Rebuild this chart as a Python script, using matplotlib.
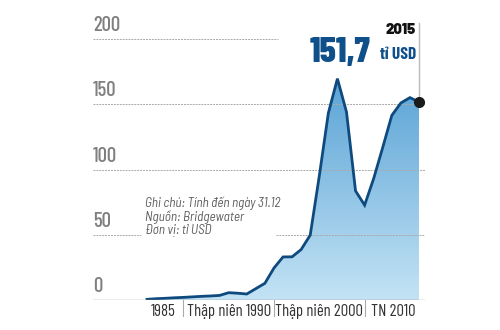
import numpy as np
import matplotlib
matplotlib.use("Agg")
import matplotlib.pyplot as plt
from matplotlib.colors import LinearSegmentedColormap

years = [1985, 1986, 1987, 1988, 1989, 1990, 1991, 1992, 1993, 1994, 1995,
         1996, 1997, 1998, 1999, 2000, 2001, 2002, 2003, 2004, 2005, 2006,
         2007, 2008, 2009, 2010, 2011, 2012, 2013, 2014, 2015]
values = [0.5, 1.0, 1.3, 1.7, 2.0, 2.4, 2.8, 3.1, 3.5, 5.6, 5.2,
          4.6, 8.7, 12.8, 24.5, 33.0, 33.1, 38.7, 49.7, 95.0, 143.3, 169.6,
          144.1, 83.6, 72.7, 93.1, 117.0, 141.5, 151.0, 155.1, 151.7]
yticks = [0, 50, 100, 150, 200]
periods = ["1985", "Thập niên 1990", "Thập niên 2000", "TN 2010"]
period_mid = [1986.8, 1994.0, 2004.0, 2012.2]
period_sep = [1989, 1999, 2009]
notes = ["Ghi chú: Tính đến ngày 31.12", "Nguồn: Bridgewater", "Đơn vị: tỉ USD"]

cf = ["Barlow Condensed", "DejaVu Sans"]
sf = ["Barlow Semi Condensed", "DejaVu Sans"]
wf = ["Barlow", "DejaVu Sans"]
line_c = "#0e4a7e"
blue = "#0f4f8a"

fig = plt.figure(figsize=(5, 3.3), dpi=100)
ax = fig.add_axes([93 / 500, 30 / 330, 332 / 500, 300 / 330])
x0, x1 = 1979.04, 2015.66
ax.set_xlim(x0, x1)
ax.set_ylim(0, 229.9)
ax.axis("off")

# gradient fill under the curve
cmap = LinearSegmentedColormap.from_list("g", ["#c3e3f4", "#5aa3d6"])
grad = np.linspace(0, 1, 256).reshape(-1, 1)
poly = ax.fill_between(years, values, 0, color="none")
im = ax.imshow(grad, cmap=cmap, origin="lower", aspect="auto",
               extent=[years[0], years[-1], 0, 170], zorder=1)
im.set_clip_path(poly.get_paths()[0], transform=ax.transData)
ax.plot(years, values, color=line_c, lw=2.0, zorder=3, solid_joinstyle="miter")

# grid lines
gc = "#aaaaaa"
ax.plot([x0, x1], [0, 0], color="#999999", lw=1, zorder=4)
ax.plot([x0, x1], [100, 100], color=gc, lw=0.7, ls=(0, (2, 1)), zorder=2)
ax.plot([x0, x1], [150, 150], color=gc, lw=0.7, ls=(0, (2, 1)), zorder=2)
ax.plot([x0, 1984.3], [50, 50], color=gc, lw=0.7, ls=(0, (2, 1)), zorder=2)
ax.plot([1999.2, x1], [50, 50], color=gc, lw=0.7, ls=(0, (2, 1)), zorder=2)
ax.plot([x0, 1999.5], [200, 200], color=gc, lw=0.7, ls=(0, (2, 1)), zorder=2)

for t in yticks:
    ax.text(x0, t + 3, str(t), fontsize=15, color="#7f7f7f", family=cf,
            fontweight="medium", ha="left", va="bottom")

# bottom period labels
for s in period_sep:
    ax.plot([s, s], [0, -12], color="#aaaaaa", lw=0.8, clip_on=False)
for lab, m in zip(periods, period_mid):
    ax.text(m, -12, lab, fontsize=12, color="#333333", family=cf,
            ha="center", va="baseline")

# notes
for i, n in enumerate(notes):
    ax.text(1984.77, 74.1 - i * 10.6, n, fontsize=9.5, color="#5e5e5e",
            style="italic", family=sf, ha="left", va="center")

# end marker and label
ax.plot([years[-1], years[-1]], [values[-1], 212], color="#bbbbbb", lw=1, zorder=2)
ax.plot(years[-1], values[-1], "o", color="#1a1a1a", ms=7, zorder=5)
ax.text(2014.67, 206.9, "2015", fontsize=10.5, fontweight="black", color="#111111",
        ha="right", va="center", family=wf)
ax.text(2014.67, 188.5, "tỉ USD", fontsize=12.5, fontweight="bold", color=blue,
        ha="right", va="center", family=cf)
ax.text(2009.6, 189.7, "151,7", fontsize=26, fontweight="heavy", color=blue,
        ha="right", va="center", family=cf)

fig.savefig("out.png", dpi=100)
